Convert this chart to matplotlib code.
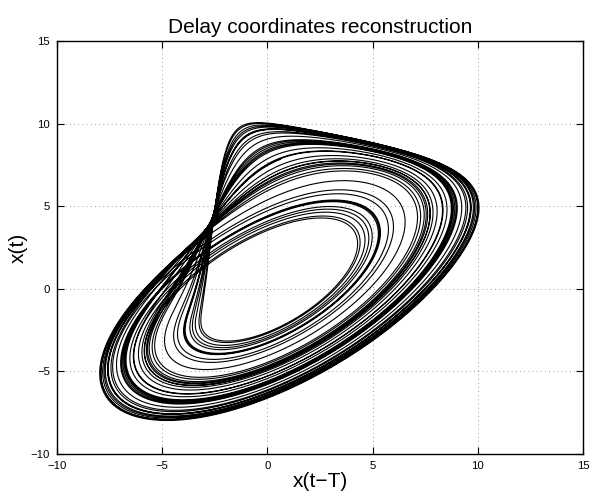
import numpy as np
import matplotlib
matplotlib.use("Agg")
import matplotlib.pyplot as plt

# Rossler system parameters (source of the plotted x(t) series)
rossler_params = [0.2, 0.2, 5.0]   # a, b, c
initial_state = [1.0, 1.0, 1.0]
time_step = 0.01
transient_time = 100.0
record_time = 240.0
delay_T = 0.9

x_ticks = [-10, -5, 0, 5, 10, 15]
y_ticks = [-10, -5, 0, 5, 10, 15]
title_text = "Delay coordinates reconstruction"
x_label = "x(t\u2212T)"
y_label = "x(t)"


def rossler(s, a, b, c):
    x, y, z = s
    return np.array([-y - z, x + a * y, b + z * (x - c)])


def integrate(s0, dt, n, p):
    s = np.array(s0, float)
    out = np.empty(n)
    for i in range(n):
        k1 = rossler(s, *p)
        k2 = rossler(s + 0.5 * dt * k1, *p)
        k3 = rossler(s + 0.5 * dt * k2, *p)
        k4 = rossler(s + dt * k3, *p)
        s = s + dt / 6.0 * (k1 + 2 * k2 + 2 * k3 + k4)
        out[i] = s[0]
    return out, s


_, s_start = integrate(initial_state, time_step, int(transient_time / time_step), rossler_params)
series, _ = integrate(s_start, time_step, int(record_time / time_step), rossler_params)
lag = int(round(delay_T / time_step))

plt.rcParams['font.family'] = ['Liberation Sans', 'DejaVu Sans']
fig = plt.figure(figsize=(5.92, 4.94), dpi=100)
ax = fig.add_axes([57 / 592, 1 - 454 / 494, (583 - 57) / 592, (454 - 41) / 494])
ax.plot(series[lag:], series[:-lag], color='black', lw=0.8)
ax.set_xlim(-10, 15)
ax.set_ylim(-10, 15)
ax.set_xticks(x_ticks)
ax.set_yticks(y_ticks)
ax.set_xticklabels([str(v).replace('-', '\u2212') for v in x_ticks])
ax.set_yticklabels([str(v).replace('-', '\u2212') for v in y_ticks])
ax.tick_params(direction='in', length=5, width=0.8, top=True, right=True, labelsize=8.2, pad=5)
ax.grid(True, color='#777777', linestyle=(0, (1, 4)), linewidth=0.6)
for sp in ax.spines.values():
    sp.set_linewidth(1.0)
ax.set_title(title_text, fontsize=15, pad=6)
ax.set_xlabel(x_label, fontsize=15, labelpad=1)
ax.set_ylabel(y_label, fontsize=15, labelpad=2)
fig.savefig("out.png", dpi=100)
